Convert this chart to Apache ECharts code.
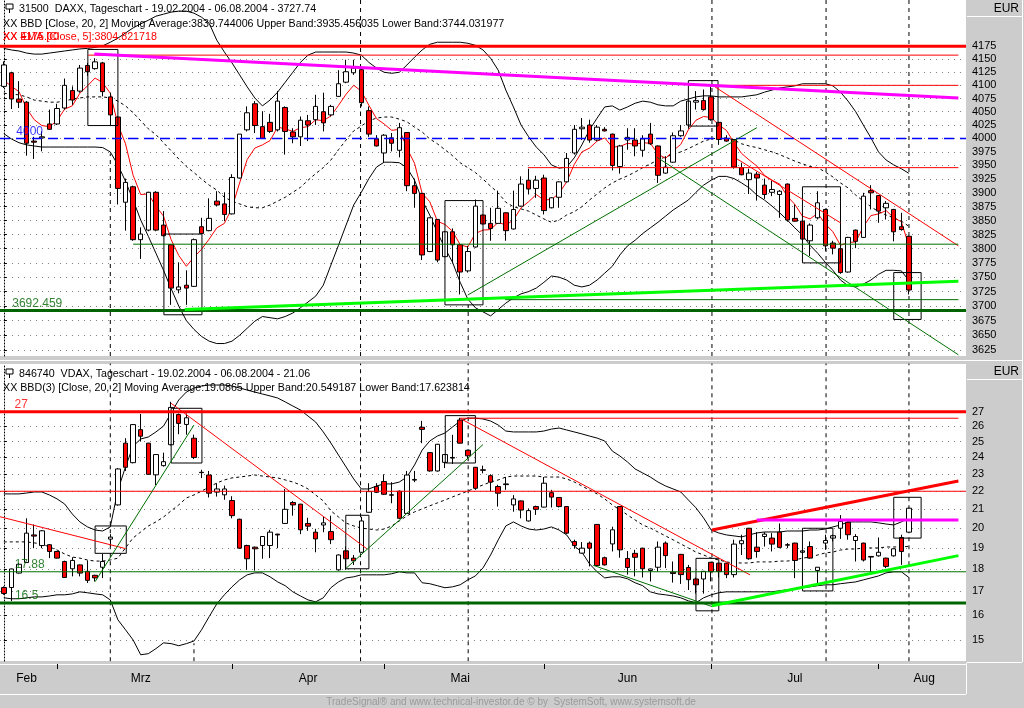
<!DOCTYPE html>
<html>
<head>
<meta charset="utf-8">
<script src="https://cdn.jsdelivr.net/npm/echarts@6/dist/echarts.min.js"></script>
<style>
  html, body { margin: 0; padding: 0; background: #cccccc; }
  #main { width: 1024px; height: 708px; }
</style>
</head>
<body>
<div id="main"></div>
<script>
// x axis: 120 trading days, 127 slots
var monthNames = ['Feb', 'Mrz', 'Apr', 'Mai', 'Jun', 'Jul', 'Aug'];
var monthDays = [7, 23, 20, 21, 22, 22, 5];
var monthLabelAt = [3, 18, 40, 60, 82, 104, 121];
var monthStartAt = [7, 30, 50, 71, 93, 115];
var slotCount = 127;

var daxTicks = [3625, 3650, 3675, 3700, 3725, 3750, 3775, 3800, 3825, 3850, 3875, 3900, 3925, 3950, 3975, 4000, 4025, 4050, 4075, 4100, 4125, 4150, 4175];
var vdaxTicks = [15, 16, 17, 18, 19, 20, 21, 22, 23, 24, 25, 26, 27];

// DAX daily candles
var daxOpen = [4098,4124,4074,4068,3995,4001,4027,4027,4057,4090, 4089,4138,4132,4143,4078,4040,3883,3911,3816,3833,
  3901,3842,3807,3728,3736,3734,3839,3832,3885,3880, 3862,3927,4016,4065,4022,4030,4016,4058,4012,4003,
  4033,4035,4050,4044,4079,4106,4124,4130,4052,3999, 3973,4001,3978,4011,3913,3899,3795,3852,3786,3830,
  3807,3761,3803,3860,3845,3845,3864,3835,3876,3923, 3908,3927,3873,3892,3920,3973,4018,4025,3997,4017,
  4008,3948,3997,3997,3978,4008,3986,3936,3956,4005, 4025,4068,4071,4078,4030,4000,3998,3946,3924,3934,
  3914,3901,3897,3916,3854,3849,3814,3855,3870,3810, 3800,3759,3833,3820,3904,3895,3873,3870,3839,3822];
var daxClose = [4139,4074,4068,3991,3993,4003,4017,4056,4100,4072, 4133,4126,4145,4088,4044,3908,3919,3816,3826,3901,
  3833,3823,3731,3733,3731,3816,3827,3854,3878,3861, 3928,4008,4048,4024,4000,4013,4070,4013,4003,4034,
  4025,4060,4029,4060,4103,4126,4133,4067,4008,3986, 4006,3991,4020,3913,3899,3789,3855,3780,3830,3807,
  3759,3795,3876,3844,3836,3872,3832,3870,3916,3907, 3923,3868,3891,3920,3963,4017,4021,3997,4021,4014,
  3950,3986,4002,3986,3999,3990,3932,3947,4005,4014, 4070,4071,4054,4035,3998,3995,3947,3933,3936,3927,
  3897,3906,3903,3851,3849,3817,3842,3882,3805,3801, 3758,3820,3813,3894,3900,3867,3881,3830,3834,3727.74];
var daxLow = [4095,4055,4057,3968,3962,3976,4016,4025,4054,4063, 4086,4118,4130,4079,4025,3879,3832,3814,3782,3831,
  3831,3822,3702,3722,3702,3733,3826,3831,3876,3849, 3861,3926,4013,4010,3999,4010,4013,3970,3991,3986,
  3995,4025,4013,4041,4078,4104,4120,4060,4003,3985, 3956,3976,3965,3903,3873,3780,3794,3776,3785,3774,
  3720,3758,3802,3843,3814,3844,3814,3834,3875,3897, 3891,3861,3872,3873,3919,3970,3997,3992,3995,4013,
  3941,3935,3979,3967,3966,3988,3918,3935,3955,4003, 4018,4054,4052,4033,3988,3994,3944,3932,3898,3886,
  3889,3894,3855,3848,3848,3814,3787,3852,3796,3790, 3756,3758,3801,3819,3870,3846,3852,3813,3832,3720];
var daxHigh = [4146,4126,4108,4070,4003,4013,4054,4065,4113,4098, 4139,4143,4152,4145,4086,4041,3926,3913,3838,3902,
  3903,3867,3808,3776,3762,3818,3855,3890,3903,3901, 3934,4008,4060,4070,4051,4046,4089,4060,4019,4041,
  4044,4082,4086,4063,4129,4149,4149,4131,4060,4006, 4008,4010,4029,4012,3926,3900,3856,3853,3831,3836,
  3808,3805,3888,3861,3873,3904,3865,3904,3930,3944, 3931,3933,3892,3921,3973,4025,4038,4035,4025,4021,
  4009,3988,4019,4019,4006,4029,3987,3967,4011,4025, 4071,4089,4092,4098,4031,4006,3999,3955,3944,3938,
  3926,3922,3905,3917,3879,3850,3845,3903,3871,3814, 3801,3821,3834,3900,3914,3896,3885,3871,3864,3823];

// DAX Bollinger (20, 2) and EMA 5 as drawn
var daxUpper = [4171,4168,4166,4162,4160,4160,4162,4164,4166,4168, 4170,4171,4173,4176,4183,4191,4201,4211,4219,4226,
  4234,4238,4242,4244,4244,4240,4232,4220,4187,4164, 4143,4120,4097,4076,4061,4072,4087,4106,4125,4144,
  4158,4164,4164,4164,4164,4164,4162,4158,4144,4133, 4125,4123,4125,4139,4154,4168,4179,4183,4183,4183,
  4183,4181,4177,4168,4152,4129,4091,4059,4025,4003, 3984,3970,3951,3945,3947,3964,3988,4016,4038,4059,
  4061,4053,4059,4066,4070,4068,4063,4061,4061,4070, 4074,4078,4080,4080,4078,4078,4078,4078,4080,4082,
  4087,4091,4095,4097,4099,4103,4103,4103,4103,4099, 4087,4070,4050,4025,4001,3975,3960,3951,3944,3935.46];
var daxMid = [4085,4083,4082,4078,4072,4070,4068,4068,4070,4074, 4076,4078,4078,4078,4076,4070,4061,4048,4033,4018,
  4007,3992,3977,3962,3948,3937,3925,3914,3905,3892, 3885,3880,3875,3873,3873,3878,3885,3892,3901,3910,
  3923,3935,3946,3960,3979,3997,4014,4023,4033,4038, 4040,4040,4036,4031,4021,4012,3999,3990,3979,3968,
  3955,3946,3937,3925,3912,3900,3883,3875,3871,3867, 3860,3853,3847,3851,3860,3866,3875,3887,3898,3909,
  3918,3925,3931,3938,3946,3953,3960,3966,3970,3975, 3981,3988,3995,3999,4001,4001,3997,3990,3986,3983,
  3979,3975,3970,3964,3958,3953,3948,3946,3938,3929, 3918,3909,3896,3885,3875,3866,3860,3855,3849,3839.74];
var daxLower = [4009,3999,3992,3988,3986,3984,3984,3984,3984,3984, 3984,3984,3984,3983,3975,3951,3921,3887,3851,3822,
  3792,3762,3730,3700,3675,3660,3648,3640,3636,3636, 3640,3650,3662,3674,3682,3680,3678,3682,3688,3697,
  3707,3717,3736,3771,3806,3842,3878,3901,3926,3947, 3956,3956,3955,3946,3923,3887,3860,3829,3801,3776,
  3741,3712,3697,3690,3683,3694,3705,3714,3721,3725, 3731,3741,3752,3750,3745,3736,3733,3736,3745,3757,
  3769,3789,3805,3815,3827,3837,3847,3858,3869,3878, 3887,3901,3914,3923,3930,3930,3926,3918,3909,3896,
  3887,3876,3864,3851,3837,3824,3806,3792,3776,3762, 3745,3735,3733,3738,3745,3755,3762,3762,3761,3744.03];
var daxEma = [4110,4098,4088,4056,4035,4024,4022,4033,4055,4061, 4085,4099,4114,4105,4085,4026,3990,3932,3897,3898,
  3876,3858,3816,3788,3769,3785,3799,3817,3837,3845, 3873,3918,3961,3982,3988,3996,4021,4018,4013,4020,
  4022,4035,4033,4042,4062,4083,4100,4089,4062,4037, 4027,4015,4017,3982,3954,3899,3884,3849,3843,3831,
  3807,3803,3827,3833,3834,3847,3842,3851,3873,3884, 3897,3887,3888,3899,3920,3952,3975,3982,3995,4001,
  3984,3985,3991,3989,3992,3991,3971,3963,3977,3989, 4016,4034,4041,4039,4025,4015,3992,3972,3960,3949,
  3932,3923,3916,3894,3879,3858,3853,3863,3844,3830, 3806,3811,3812,3839,3859,3862,3868,3855,3848,3804.82];

// VDAX daily candles
var vdaxOpen = [17.17,17.17,17.82,18.31,19.66,19.13,19.17,18.84,18.36,18.02, 18.20,17.90,17.72,18.09,19.45,21.24,24.90,23.68,25.78,24.90,
  22.95,23.50,24.80,26.80,26.13,25.22,23.10,22.94,21.95,21.80, 21.48,20.47,19.13,19.05,19.13,19.13,19.70,20.25,21.37,21.28,
  20.25,19.80,20.17,19.83,17.97,18.87,18.52,18.80,20.84,22.27, 22.56,21.80,22.00,20.78,22.64,25.94,24.30,23.18,23.70,24.00,
  26.43,24.45,23.40,23.25,22.90,22.27,22.42,21.24,21.46,20.38, 21.15,21.12,21.92,21.65,21.15,19.33,18.76,19.25,20.20,18.54,
  19.21,21.15,18.50,18.75,19.00,17.94,18.09,19.25,17.86,18.70, 18.08,17.55,17.55,18.32,18.28,18.28,17.75,19.22,20.00,19.05,
  19.58,19.50,19.80,19.17,19.25,18.80,19.08,17.94,19.25,19.50, 20.00,20.31,19.38,19.25,18.60,18.63,18.52,18.63,19.53,19.80];
var vdaxClose = [16.91,18.01,18.23,19.75,19.60,19.87,18.84,18.52,17.62,18.41, 17.82,17.49,17.60,18.36,19.55,23.30,23.40,26.12,25.35,22.98,
  24.18,23.74,27.30,26.20,26.58,24.00,23.08,21.89,22.13,22.13, 20.66,19.00,18.49,18.97,19.58,19.80,19.66,21.00,21.24,19.92,
  20.11,19.46,20.28,19.42,18.67,18.49,18.39,20.38,21.98,21.94, 21.83,21.78,20.52,22.94,22.68,25.80,23.18,24.83,24.18,23.96,
  24.90,24.10,22.17,23.22,22.52,21.89,22.38,21.57,20.96,20.93, 21.00,22.46,21.67,21.15,19.75,19.13,19.00,19.00,18.17,18.20,
  19.92,18.92,18.08,18.56,18.02,18.01,19.05,18.64,17.80,17.75, 17.52,17.29,17.90,17.89,17.89,17.75,19.20,19.37,18.49,18.84,
  19.70,19.20,19.04,19.15,18.41,18.87,18.52,18.09,19.38,19.62, 20.35,19.67,19.58,18.43,18.57,18.80,18.13,18.97,18.84,21.06];
var vdaxLow = [16.85,16.58,17.80,18.30,19.00,19.00,18.52,18.50,17.60,17.67, 17.67,17.37,17.44,17.59,19.08,21.20,23.18,23.64,25.00,22.95,
  22.36,23.44,24.75,25.48,25.45,23.90,22.76,21.65,21.70,21.52, 20.52,18.98,17.97,17.93,18.49,18.52,19.00,20.22,20.66,19.70,
  19.87,18.80,19.80,19.20,17.93,17.97,18.20,18.78,20.82,21.90, 21.80,21.33,20.49,20.75,22.52,24.90,23.14,23.14,23.35,23.60,
  24.88,23.90,22.08,23.04,21.98,21.15,22.08,20.87,20.52,20.35, 20.70,21.10,21.10,21.10,19.70,18.97,18.74,18.13,18.15,18.17,
  18.84,18.54,17.75,17.67,17.62,17.44,17.89,18.05,17.39,17.33, 17.06,16.91,16.90,17.44,17.62,17.59,17.62,18.67,18.44,18.54,
  19.08,18.84,19.00,19.00,17.59,18.67,18.49,17.37,18.92,19.33, 19.46,19.42,18.36,18.36,17.89,18.59,18.05,18.59,18.20,19.78];
var vdaxHigh = [17.22,18.03,18.28,20.52,20.20,19.90,19.20,18.86,18.40,18.56, 18.22,18.41,17.74,18.72,19.70,23.35,25.22,26.15,26.85,24.92,
  24.20,24.30,27.70,26.88,26.88,25.45,23.25,23.18,22.46,22.32, 21.72,20.50,19.17,19.08,19.60,19.92,19.72,22.13,21.45,21.30,
  20.55,19.97,20.60,20.66,18.70,19.08,18.67,20.60,22.46,22.46, 22.98,22.52,22.05,23.18,23.18,26.37,24.32,24.85,24.20,25.44,
  26.58,24.48,23.42,23.50,22.98,22.37,22.82,21.78,21.48,21.05, 21.20,22.82,22.08,21.67,21.17,19.42,19.30,19.33,20.22,18.59,
  20.08,21.17,18.86,18.92,19.02,18.03,19.33,19.33,18.36,18.72, 18.20,17.62,17.92,18.34,18.30,18.30,19.42,19.67,20.02,19.80,
  19.80,19.75,20.25,19.25,19.27,18.88,19.33,18.10,19.67,19.67, 20.69,20.35,19.70,19.27,18.62,19.53,18.54,18.99,19.67,21.08];

var vdaxUpper = [21.85,21.85,21.85,21.90,21.96,21.96,21.79,21.57,21.29,20.75, 20.33,20.07,19.91,19.86,20.07,22.07,23.42,24.71,25.17,25.30,
  25.63,26.02,26.91,27.83,28.40,28.70,28.85,28.92,28.92,28.92, 28.85,28.70,28.55,28.40,28.26,28.12,27.97,27.69,27.40,27.12,
  26.70,26.29,25.63,24.91,24.15,23.42,22.71,22.13,22.13,22.30, 22.42,22.42,22.53,22.82,23.54,24.46,25.04,25.36,25.56,25.96,
  26.36,26.56,26.56,26.50,26.36,26.09,25.69,25.63,25.63,25.63, 25.63,25.69,25.82,25.89,25.76,25.63,25.50,25.36,25.23,25.04,
  24.40,24.09,23.72,23.30,23.06,22.82,22.53,22.30,22.13,21.96, 21.51,21.08,20.54,19.91,19.76,19.66,19.61,19.56,19.66,19.76,
  19.81,19.81,19.81,19.86,19.86,19.86,19.91,19.91,19.96,20.07, 20.17,20.33,20.33,20.33,20.33,20.28,20.22,20.17,20.33,20.55];
var vdaxMid = [19.31,19.31,19.31,19.31,19.26,19.21,19.06,18.91,18.72,18.57, 18.52,18.43,18.38,18.38,18.43,18.52,19.01,19.51,19.81,20.12,
  20.33,20.59,20.92,21.24,21.62,21.79,22.01,22.24,22.47,22.65, 22.77,22.82,22.88,22.94,22.88,22.82,22.77,22.65,22.53,22.36,
  22.13,21.79,21.46,20.92,20.59,20.27,20.12,20.01,19.96,19.91, 19.96,20.12,20.38,20.65,20.86,21.02,21.19,21.35,21.51,21.68,
  21.85,22.01,22.19,22.36,22.53,22.65,22.82,22.88,22.88,22.88, 22.88,22.82,22.82,22.82,22.71,22.53,22.30,22.07,21.85,21.57,
  21.24,20.97,20.70,20.43,20.17,20.01,19.81,19.61,19.41,19.21, 19.01,18.81,18.67,18.52,18.43,18.34,18.29,18.29,18.29,18.34,
  18.34,18.34,18.38,18.38,18.43,18.52,18.57,18.67,18.77,18.81, 18.91,18.96,18.96,19.01,19.01,19.01,19.06,19.06,19.06,19.09];
var vdaxLower = [16.72,16.68,16.68,16.72,16.76,16.76,16.80,16.85,16.85,16.89, 16.98,16.94,16.89,16.85,16.63,15.80,15.40,15.00,14.44,14.48,
  14.67,14.89,14.86,14.78,14.86,14.96,15.40,15.93,16.46,16.85, 17.20,17.51,17.74,17.83,17.83,17.65,17.42,17.25,16.98,16.80,
  16.63,16.55,16.72,17.16,17.42,17.60,17.65,17.74,17.74,17.74, 17.74,17.79,17.88,17.83,17.83,17.38,17.34,17.25,17.16,17.20,
  17.29,17.51,17.69,18.06,18.67,19.41,20.12,20.33,20.12,19.96, 19.91,19.96,20.07,19.91,19.66,19.11,18.81,18.25,17.88,17.60,
  17.65,17.65,17.56,17.38,17.25,16.98,16.89,16.85,16.80,16.72, 16.59,16.51,16.72,16.85,16.94,16.98,16.98,16.98,16.98,16.98,
  16.98,16.98,17.03,17.07,17.11,17.16,17.20,17.25,17.29,17.29, 17.34,17.38,17.42,17.51,17.60,17.69,17.83,17.88,17.88,17.62];

// drawn studies, segments as [x1, v1, x2, v2] in slot units
var daxRedThick = [[-0.5, 4175, 126.5, 4175]];
var daxRedThin = [[11.1, 4158, 125.5, 4158], [90, 4100, 125.5, 4100], [68.9, 3946, 125.5, 3946],
  [93.3, 4099, 125.5, 3805], [96.4, 3962, 110, 3846]];
var daxMagenta = [[11.9, 4160, 125.5, 4076]];
var daxBlue = [[-0.5, 4000, 126.5, 4000]];
var daxGreenThin = [[17, 3808, 125.5, 3808], [65.9, 3711, 125.5, 3711], [61, 3719, 99, 4020], [85.9, 3965, 125.5, 3617]];
var daxGreenThick = [[-0.5, 3692.459, 126.5, 3692.459]];
var daxLime = [[23.8, 3694, 125.5, 3743]];
var daxBoxes = [[11.05, 4024, 15.0, 4169], [21.05, 3685, 26.05, 3826], [58, 3702, 63, 3886],
  [90, 4023, 93.9, 4109], [105, 3775, 110, 3911], [117, 3677, 120.6, 3758]];
var daxVLines = [[14, 3615, 14, 3972], [46.9, 3615, 46.9, 4266], [61.05, 3615, 61.05, 3702],
  [93.1, 3615, 93.1, 4266], [108.1, 3615, 108.1, 4266], [119, 3615, 119, 4266]];

var vdaxRedThick = [[-0.5, 27, 126.5, 27], [93.1, 19.91, 125.5, 22.59]];
var vdaxRedThin = [[60, 26.55, 125.5, 26.55], [-0.5, 22.0, 126.5, 22.0], [-0.57, 20.61, 16.0, 18.98],
  [22.0, 27.59, 47.7, 18.98], [60, 26.54, 98.1, 17.74]];
var vdaxMagenta = [[99, 20.43, 125.5, 20.43]];
var vdaxGreenThin = [[-0.5, 17.88, 126.5, 17.88], [12, 17.43, 25, 26.09], [45, 18.04, 63, 24.81], [77.5, 18.18, 93.1, 16.35]];
var vdaxGreenThick = [[-0.5, 16.5, 126.5, 16.5]];
var vdaxLime = [[93.1, 16.38, 125.5, 18.64]];
var vdaxBoxes = [[12, 18.75, 16.1, 20.12], [22, 23.66, 26.05, 27.24], [44.96, 18.02, 48, 20.68],
  [58.04, 23.66, 62, 26.73], [91, 16.17, 94, 18.51], [105, 17.02, 109, 20.0], [117, 19.5, 120.6, 21.66]];
var vdaxVLines = [[14, 14.2, 14, 30.6], [25, 14.2, 25, 14.87], [46.9, 14.2, 46.9, 30.6], [61.05, 14.2, 61.05, 30.6],
  [93.1, 14.2, 93.1, 30.6], [108.1, 14.2, 108.1, 30.6], [119, 14.2, 119, 30.6]];

var daxTags = [[3.4, 4000, '4000', '#0000ff'], [4.4, 3692.459, '3692.459', '#006400']];
var vdaxTags = [[2.3, 27, '27', '#ff0000'], [3.4, 17.88, '17.88', '#006400'], [3, 16.5, '16.5', '#006400']];

var FONT = 'Liberation Sans, Arial, sans-serif';
var NARROW = 'Liberation Sans Narrow, Liberation Sans, Arial, sans-serif';

var cats = [];
monthNames.forEach(function (m, k) {
  for (var d = 0; d < monthDays[k]; d++) cats.push(m);
});
while (cats.length < slotCount) cats.push('');

function segs(list, xi, yi, color, width, type, z) {
  return list.map(function (s) {
    return {
      type: 'line', xAxisIndex: xi, yAxisIndex: yi, silent: true, symbol: 'none', z: z || 5,
      data: [[s[0], s[1]], [s[2], s[3]]],
      lineStyle: { color: color, width: width, type: type || 'solid' }
    };
  });
}
function boxes(list, xi, yi) {
  return list.map(function (b) {
    return {
      type: 'line', xAxisIndex: xi, yAxisIndex: yi, silent: true, symbol: 'none', z: 4,
      data: [[b[0], b[1]], [b[2], b[1]], [b[2], b[3]], [b[0], b[3]], [b[0], b[1]]],
      lineStyle: { color: '#000', width: 1 }
    };
  });
}
function tags(list, xi, yi) {
  return {
    type: 'scatter', xAxisIndex: xi, yAxisIndex: yi, silent: true, symbolSize: 0, z: 6,
    data: list.map(function (t) {
      return { value: [t[0], t[1]], label: { formatter: t[2], color: t[3] } };
    }),
    label: { show: true, position: 'top', distance: 1, fontSize: 12, fontFamily: FONT }
  };
}
function band(data, xi, yi, color, type) {
  return {
    type: 'line', xAxisIndex: xi, yAxisIndex: yi, data: data, symbol: 'none', silent: true, z: 2,
    lineStyle: { color: color, width: 1, type: type || 'solid' }
  };
}
function candles(o, c, l, h, xi, yi) {
  return {
    type: 'candlestick', xAxisIndex: xi, yAxisIndex: yi, barWidth: 5, silent: true, z: 3,
    data: o.map(function (v, i) { return [v, c[i], l[i], h[i]]; }),
    itemStyle: { color: '#ffffff', color0: '#ff0000', borderColor: '#000000', borderColor0: '#000000', borderWidth: 1 }
  };
}
function priceAxis(grid, min, max, ticks) {
  return {
    type: 'log', gridIndex: grid, position: 'right', min: min, max: max, offset: 3,
    axisLine: { show: true, lineStyle: { color: '#000', type: [1, 2] } },
    axisTick: { show: true, customValues: ticks, length: 3, lineStyle: { color: '#000' } },
    axisLabel: { customValues: ticks, color: '#000', fontSize: 11, margin: 3, fontFamily: FONT,
      formatter: function (v) { return String(Math.round(v)); } },
    splitLine: { show: true, lineStyle: { color: '#808080', type: [1, 5] } }
  };
}

var series = [];
series.push(candles(daxOpen, daxClose, daxLow, daxHigh, 0, 0));
series.push(band(daxUpper, 0, 0, '#000'));
series.push(band(daxMid, 0, 0, '#000', [3, 3]));
series.push(band(daxLower, 0, 0, '#000'));
series.push(band(daxEma, 0, 0, '#ff0000'));
series = series.concat(
  segs(daxVLines, 1, 0, '#000', 1, [4, 4], 1),
  segs(daxRedThick, 1, 0, '#ff0000', 3),
  segs(daxRedThin, 1, 0, '#ff0000', 1),
  segs(daxMagenta, 1, 0, '#ff00ff', 3),
  segs(daxBlue, 1, 0, '#0000ff', 1.5, [10, 6]),
  segs(daxGreenThin, 1, 0, '#007000', 1),
  segs(daxGreenThick, 1, 0, '#006400', 3),
  segs(daxLime, 1, 0, '#00ff00', 3),
  boxes(daxBoxes, 1, 0),
  [tags(daxTags, 1, 0)]
);
series.push(candles(vdaxOpen, vdaxClose, vdaxLow, vdaxHigh, 2, 1));
series.push(band(vdaxUpper, 2, 1, '#000'));
series.push(band(vdaxMid, 2, 1, '#000', [3, 3]));
series.push(band(vdaxLower, 2, 1, '#000'));
series = series.concat(
  segs(vdaxVLines, 3, 1, '#000', 1, [4, 4], 1),
  segs(vdaxRedThick, 3, 1, '#ff0000', 3),
  segs(vdaxRedThin, 3, 1, '#ff0000', 1),
  segs(vdaxMagenta, 3, 1, '#ff00ff', 3),
  segs(vdaxGreenThin, 3, 1, '#007000', 1),
  segs(vdaxGreenThick, 3, 1, '#006400', 3),
  segs(vdaxLime, 3, 1, '#00ff00', 3),
  boxes(vdaxBoxes, 3, 1),
  [tags(vdaxTags, 3, 1)]
);

function txt(x, y, s, color, size, family, align) {
  return { type: 'text', x: x, y: y, silent: true, z: 10,
    style: { text: s, fill: color || '#000', fontSize: size || 10.7, fontFamily: family || FONT,
      align: align || 'left', verticalAlign: 'middle' } };
}
function hline(x1, x2, y, color) {
  return { type: 'line', silent: true, z: 10, shape: { x1: x1, y1: y, x2: x2, y2: y }, style: { stroke: color || '#fff', lineWidth: 1 } };
}
function vline(x, y1, y2, color) {
  return { type: 'line', silent: true, z: 10, shape: { x1: x, y1: y1, x2: x, y2: y2 }, style: { stroke: color || '#fff', lineWidth: 1 } };
}
function pin(x, y) {
  return [
    { type: 'rect', silent: true, z: 10, shape: { x: x, y: y, width: 7, height: 5 }, style: { fill: '#fff', stroke: '#000', lineWidth: 1 } },
    vline(x + 3.5, y + 5, y + 9, '#000')
  ];
}

var graphics = [
  txt(19, 9, '31500  DAXX, Tageschart - 19.02.2004 - 06.08.2004 - 3727.74'),
  txt(3, 24, 'XX BBD [Close, 20, 2] Moving Average:3839.744006 Upper Band:3935.456035 Lower Band:3744.031977'),
  txt(3, 37, 'XX EMA [Close, 5]:3804.821718', '#ff0000'),
  txt(3, 37, 'XX 4175.00', '#ff0000'),
  txt(19, 374, '846740  VDAX, Tageschart - 19.02.2004 - 06.08.2004 - 21.06'),
  txt(3, 388, 'XX BBD(3) [Close, 20, 2] Moving Average:19.0865 Upper Band:20.549187 Lower Band:17.623814'),
  txt(1019, 9, 'EUR', '#000', 12, FONT, 'right'),
  txt(1019, 372, 'EUR', '#000', 12, FONT, 'right'),
  txt(511, 702, 'TradeSignal\u00ae and www.technical-investor.de \u00a9 by  SystemSoft, www.systemsoft.de', '#9a9a9a', 10, NARROW, 'center'),
  hline(967, 1022, 16.5), hline(967, 1022, 379.5), hline(0, 1022, 360.5),
  hline(967, 1022, 662.5), hline(0, 966, 694.5), vline(1022.5, 0, 662), vline(966.5, 663, 694)
].concat(pin(6, 4), pin(6, 369));

var option = {
  animation: false,
  backgroundColor: '#cccccc',
  textStyle: { fontFamily: FONT },
  grid: [
    { left: 0, top: 0, width: 966, height: 356, show: true, backgroundColor: '#ffffff', borderWidth: 0 },
    { left: 0, top: 364, width: 966, height: 297, show: true, backgroundColor: '#ffffff', borderWidth: 0 }
  ],
  xAxis: [
    { type: 'category', gridIndex: 0, data: cats, axisLine: { show: false }, axisTick: { show: false }, axisLabel: { show: false }, splitLine: { show: false } },
    { type: 'value', gridIndex: 0, min: -0.5, max: 126.5, show: false },
    { type: 'category', gridIndex: 1, data: cats, axisLine: { show: false }, axisTick: { show: false }, axisLabel: { show: false }, splitLine: { show: false } },
    { type: 'value', gridIndex: 1, min: -0.5, max: 126.5, position: 'bottom', offset: 3,
      axisLine: { show: true, lineStyle: { color: '#ffffff' } },
      axisTick: { show: true, customValues: monthStartAt, length: 5, lineStyle: { color: '#000' } },
      axisLabel: { customValues: monthLabelAt, margin: 9, fontSize: 12, color: '#000', fontFamily: NARROW,
        formatter: function (v) { return monthNames[monthLabelAt.indexOf(v)] || ''; } },
      splitLine: { show: false } }
  ],
  yAxis: [
    priceAxis(0, 3615, 4266, daxTicks),
    priceAxis(1, 14.21, 30.53, vdaxTicks)
  ],
  series: series,
  graphic: graphics
};

var myChart = echarts.init(document.getElementById('main'));
myChart.setOption(option);
</script>
</body>
</html>
